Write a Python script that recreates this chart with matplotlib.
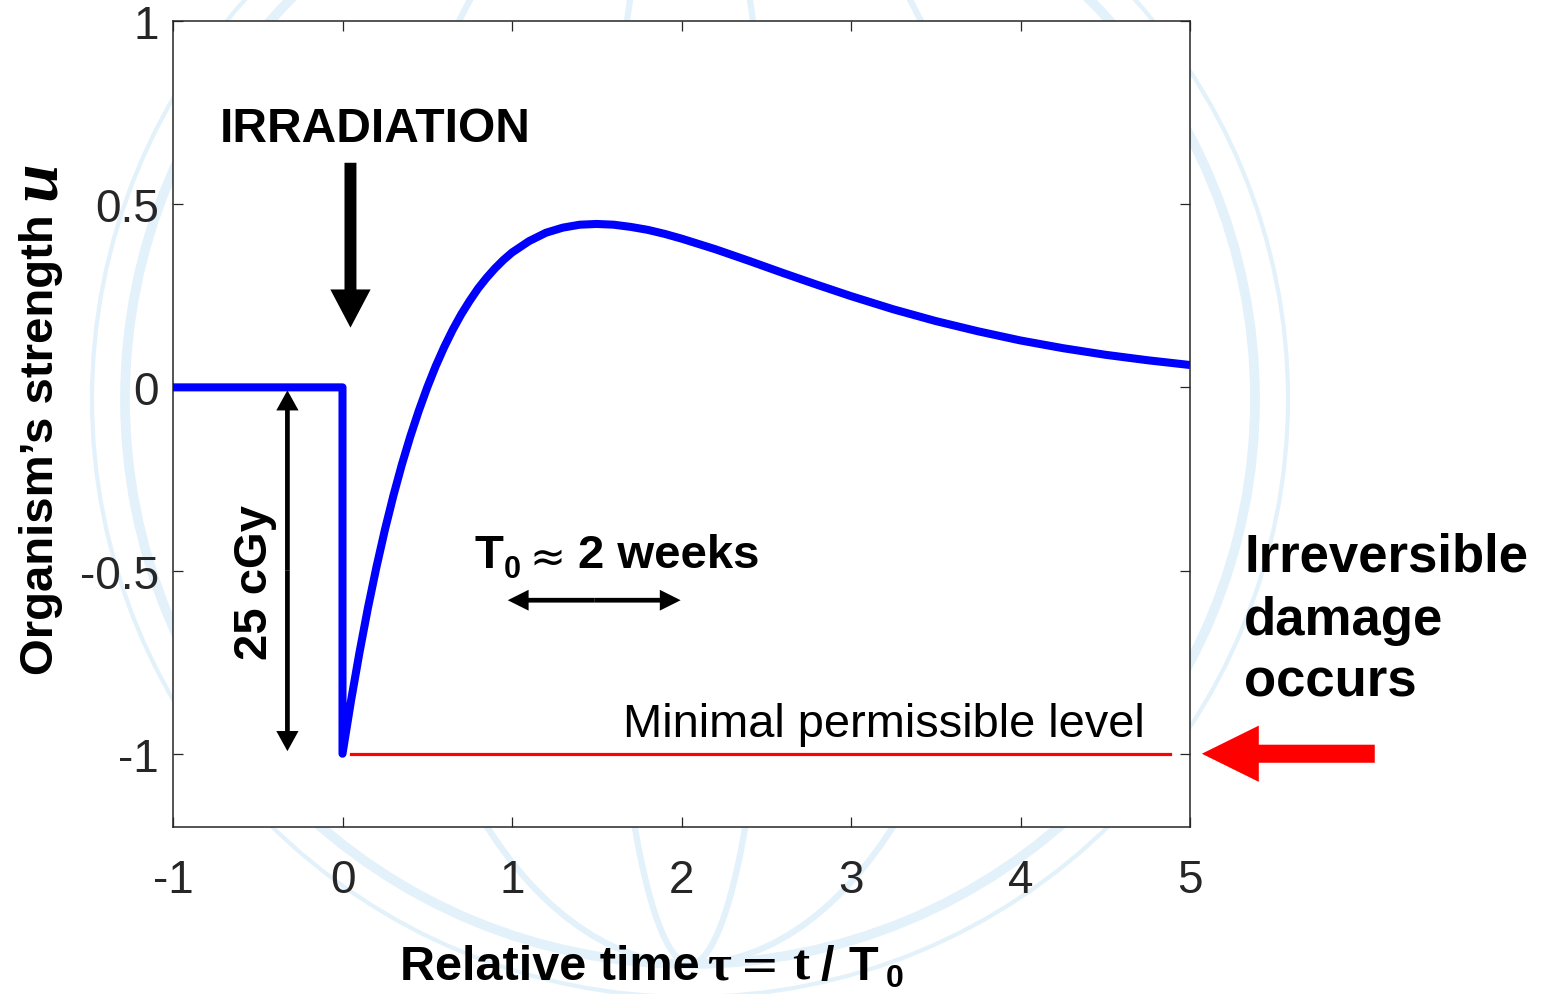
import matplotlib
matplotlib.use("Agg")
import matplotlib.pyplot as plt
from matplotlib.patches import FancyArrowPatch, Circle, Ellipse

# ---------------------------------------------------------------- data
# organism's strength before the dose: flat at zero, then the drop at tau = 0
tau_before = [-1.0, 0.0, 0.0]
u_before = [0.0, 0.0, -1.0]

# recovery after irradiation
tau_after = [0.0, 0.05, 0.1, 0.15, 0.2, 0.25, 0.3, 0.35, 0.4, 0.45, 0.5, 0.55,
             0.6, 0.65, 0.7, 0.75, 0.8, 0.85, 0.9, 0.95, 1.0, 1.1, 1.2, 1.3,
             1.4, 1.5, 1.6, 1.7, 1.8, 1.9, 2.0, 2.2, 2.4, 2.6, 2.8, 3.0, 3.25,
             3.5, 3.75, 4.0, 4.25, 4.5, 4.75, 5.0]
u_after = [-1.0, -0.856, -0.724, -0.602, -0.491, -0.389, -0.296, -0.211,
           -0.134, -0.064, 0.0, 0.058, 0.110, 0.157, 0.199, 0.236, 0.270,
           0.299, 0.325, 0.348, 0.368, 0.399, 0.422, 0.436, 0.444, 0.446,
           0.444, 0.438, 0.430, 0.419, 0.406, 0.377, 0.345, 0.312, 0.280,
           0.249, 0.213, 0.181, 0.153, 0.128, 0.107, 0.089, 0.074, 0.061]

# minimal permissible level
level_tau = [0.05, 4.88]
level_u = [-1.0, -1.0]

xticks = [-1, 0, 1, 2, 3, 4, 5]
xtick_labels = ["-1", "0", "1", "2", "3", "4", "5"]
yticks = [-1, -0.5, 0, 0.5, 1]
ytick_labels = ["-1", "-0.5", "0", "0.5", "1"]

# ---------------------------------------------------------------- figure
W, H, DPI = 1544, 995, 100
SANS = "Liberation Sans"
SERIF = "Liberation Serif"
INK = "#262626"
plt.rcParams["font.family"] = [SANS, "DejaVu Sans"]
plt.rcParams["mathtext.fontset"] = "custom"
plt.rcParams["mathtext.bfit"] = "Liberation Serif:bold:italic"

fig = plt.figure(figsize=(W / DPI, H / DPI), dpi=DPI, facecolor="white")


def px(x, y):
    """Figure pixel position (origin top-left) -> figure fraction."""
    return x / W, 1 - y / H


# faint globe emblem in the background
bg = fig.add_axes([0, 0, 1, 1], zorder=0)
bg.set_xlim(0, W)
bg.set_ylim(H, 0)
bg.axis("off")
globe = "#e3f1fb"
cx, cy = 690, 400
bg.add_patch(Circle((cx, cy), 565, fill=False, lw=7, ec=globe))
bg.add_patch(Circle((cx, cy), 598, fill=False, lw=3, ec=globe))
bg.add_patch(Ellipse((cx, cy), 2 * 565 * 0.55, 2 * 565, fill=False, lw=4.5, ec=globe))
bg.add_patch(Ellipse((cx, cy), 2 * 565 * 0.15, 2 * 565, fill=False, lw=4.5, ec=globe))

# main axes
ax = fig.add_axes([173 / W, 1 - 828 / H, (1190 - 173) / W, (828 - 22) / H], zorder=1)
ax.set_facecolor("white")
ax.set_xlim(-1, 5)
ax.set_ylim(-1.2, 1)
ax.set_xticks(xticks)
ax.set_xticklabels(xtick_labels)
ax.set_yticks(yticks)
ax.set_yticklabels(ytick_labels)
ax.tick_params(direction="in", length=7, width=0.9, color=INK, labelcolor=INK,
               labelsize=33, top=True, right=True)
ax.tick_params(axis="x", pad=22)
ax.tick_params(axis="y", pad=10)
for s in ax.spines.values():
    s.set_color(INK)
    s.set_linewidth(1.1)

# strength curve
ax.plot(tau_before + tau_after[1:], u_before + u_after[1:], color="#0000ff",
        lw=5.8, solid_joinstyle="round", solid_capstyle="butt", zorder=3)
# permissible level
ax.plot(level_tau, level_u, color="#ff0000", lw=2.3, zorder=2)


def block_arrow(start, end, head_len, head_w, tail_w, color, clip=True):
    style = f"simple,head_length={head_len},head_width={head_w},tail_width={tail_w}"
    a = FancyArrowPatch(start, end, arrowstyle=style, mutation_scale=1,
                        color=color, lw=0, shrinkA=0, shrinkB=0, zorder=4)
    a.set_clip_on(clip)
    ax.add_patch(a)


def double_arrow(p0, p1, head_len, head_w, tail_w, color="black"):
    mid = ((p0[0] + p1[0]) / 2, (p0[1] + p1[1]) / 2)
    block_arrow(mid, p0, head_len, head_w, tail_w, color)
    block_arrow(mid, p1, head_len, head_w, tail_w, color)


# irradiation arrow
block_arrow((0.047, 0.613), (0.047, 0.163), 27.5, 29, 8.6, "black")
# dose span (0 down to -1)
double_arrow((-0.325, -0.008), (-0.325, -0.993), 14.5, 16, 3.4)
# one T0 interval
double_arrow((0.975, -0.581), (1.995, -0.581), 15, 15, 3.4)
# red arrow pointing at the permissible level from outside the box
block_arrow((6.09, -1.0), (5.07, -1.0), 41, 40.5, 13, "#ff0000", clip=False)

# ---------------------------------------------------------------- texts
ax.text(-0.727, 0.673, "IRRADIATION", fontsize=34.5, fontweight="bold",
        ha="left", va="baseline", color="black", zorder=5)

ax.text(-0.448, -0.741, "25 cGy", fontsize=34, fontweight="bold", rotation=90,
        rotation_mode="anchor", ha="left", va="baseline", color="black")

ax.text(1.657, -0.951, "Minimal permissible level", fontsize=33.8, ha="left",
        va="baseline", color="black")

# T0 ≈ 2 weeks
ax.text(0.778, -0.490, "T", fontsize=34, fontweight="bold", ha="left",
        va="baseline")
ax.text(0.952, -0.517, "0", fontsize=22, fontweight="bold", ha="left",
        va="baseline")
ax.text(1.100, -0.497, "\u2248", fontsize=31, ha="left", va="baseline",
        family=["DejaVu Sans"])
ax.text(1.392, -0.490, "2 weeks", fontsize=34, fontweight="bold", ha="left",
        va="baseline")

# right-hand note
for label, base in (("Irreversible", 572), ("damage", 635), ("occurs", 697)):
    fig.text(*px(1244, base), label, fontsize=38, fontweight="bold",
             ha="left", va="baseline", color="black")

# x-axis label: Relative time τ = t / T0
xl_base = 980
fig.text(*px(400, xl_base), "Relative time", fontsize=35, fontweight="bold",
         ha="left", va="baseline")
fig.text(*px(708, xl_base), "\u03c4", fontsize=37, fontweight="bold",
         ha="left", va="baseline", family=[SERIF, "DejaVu Serif"])
fig.text(*px(740, xl_base), "=", fontsize=34, ha="left", va="baseline",
         family=["DejaVu Sans"])
fig.text(*px(792, xl_base), "t", fontsize=37, fontweight="bold",
         ha="left", va="baseline", family=[SERIF, "DejaVu Serif"])
fig.text(*px(821, xl_base), "/", fontsize=35, fontweight="bold",
         ha="left", va="baseline")
fig.text(*px(849, xl_base), "T", fontsize=35, fontweight="bold",
         ha="left", va="baseline")
fig.text(*px(886, 987), "0", fontsize=23, fontweight="bold",
         ha="left", va="baseline")

# y-axis label: Organism's strength u
fig.text(*px(53, 675), "Organism\u2019s strength", fontsize=34,
         fontweight="bold", rotation=90, rotation_mode="anchor",
         ha="left", va="baseline")
fig.text(*px(57, 203), r"$\mathbfit{u}$", fontsize=50,
         rotation=90, rotation_mode="anchor", ha="left", va="baseline")

fig.savefig("out.png", dpi=DPI, facecolor="white")
